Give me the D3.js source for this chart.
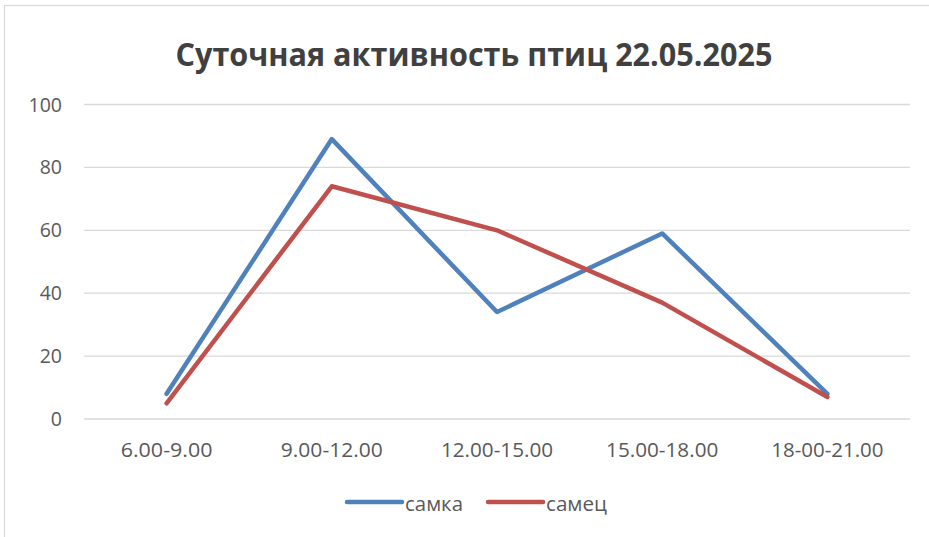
<!DOCTYPE html>
<html>
<head>
<meta charset="utf-8">
<script src="https://cdn.jsdelivr.net/npm/d3@7"></script>
<style>
  body { margin: 0; background: #fff; }
  text { font-family: "Open Sans", "DejaVu Sans", sans-serif; }
</style>
</head>
<body>
<svg id="chart"></svg>
<script>
const categories = ["6.00-9.00", "9.00-12.00", "12.00-15.00", "15.00-18.00", "18-00-21.00"];
const samka = [8, 89, 34, 59, 8];
const samec = [5, 74, 60, 37, 7];
const yTicks = [0, 20, 40, 60, 80, 100];

const width = 929;
const height = 537;
const margin = { top: 104.5, right: 19, bottom: 118, left: 84 };

const svg = d3.select("#chart")
    .attr("width", width)
    .attr("height", height);

// chart frame
svg.append("rect")
    .attr("x", 4.5).attr("y", 5.5)
    .attr("width", 940).attr("height", 540)
    .attr("fill", "none")
    .attr("stroke", "#d9d9d9")
    .attr("stroke-width", 1.2);

svg.append("text")
    .attr("x", 474).attr("y", 66)
    .attr("text-anchor", "middle")
    .attr("font-size", 33)
    .attr("font-weight", "bold")
    .attr("fill", "#404040")
    .attr("textLength", 597)
    .attr("lengthAdjust", "spacingAndGlyphs")
    .text("Суточная активность птиц 22.05.2025");

const x = d3.scaleBand()
    .domain(categories)
    .range([margin.left, width - margin.right]);

const y = d3.scaleLinear()
    .domain([0, 100])
    .range([height - margin.bottom, margin.top]);

// gridlines
svg.append("g")
    .selectAll("line")
    .data(yTicks)
    .join("line")
    .attr("x1", margin.left)
    .attr("x2", width - margin.right)
    .attr("y1", d => y(d))
    .attr("y2", d => y(d))
    .attr("stroke", "#d9d9d9")
    .attr("stroke-width", 1.3);

// y labels
svg.append("g")
    .selectAll("text")
    .data(yTicks)
    .join("text")
    .attr("x", 62)
    .attr("y", d => y(d) + 7)
    .attr("text-anchor", "end")
    .attr("font-size", 19.5)
    .attr("fill", "#595959")
    .text(d => d);

// x labels, stretched to the narrow-font widths of the original
svg.append("g")
    .selectAll("text")
    .data(categories)
    .join("text")
    .attr("x", d => x(d) + x.bandwidth() / 2)
    .attr("y", 457)
    .attr("text-anchor", "middle")
    .attr("font-size", 19.5)
    .attr("fill", "#595959")
    .attr("textLength", d => d.length * 10.2)
    .attr("lengthAdjust", "spacingAndGlyphs")
    .text(d => d);

const line = d3.line()
    .x((d, i) => x(categories[i]) + x.bandwidth() / 2)
    .y(d => y(d));

const series = [
    { name: "самка", values: samka, color: "#4f81bd" },
    { name: "самец", values: samec, color: "#c0504d" }
];

svg.append("g")
    .selectAll("path")
    .data(series)
    .join("path")
    .attr("d", d => line(d.values))
    .attr("fill", "none")
    .attr("stroke", d => d.color)
    .attr("stroke-width", 4.5)
    .attr("stroke-linejoin", "round")
    .attr("stroke-linecap", "round");

// legend
const legendX = [347, 488];
const legend = svg.append("g")
    .selectAll("g")
    .data(series)
    .join("g")
    .attr("transform", (d, i) => `translate(${legendX[i]}, 502)`);

legend.append("line")
    .attr("x1", 0).attr("x2", 55)
    .attr("stroke", d => d.color)
    .attr("stroke-width", 4.5)
    .attr("stroke-linecap", "round");

legend.append("text")
    .attr("x", 58)
    .attr("y", 9)
    .attr("font-size", 20)
    .attr("fill", "#595959")
    .attr("textLength", (d, i) => i === 0 ? 58 : 61)
    .attr("lengthAdjust", "spacingAndGlyphs")
    .text(d => d.name);
</script>
</body>
</html>
